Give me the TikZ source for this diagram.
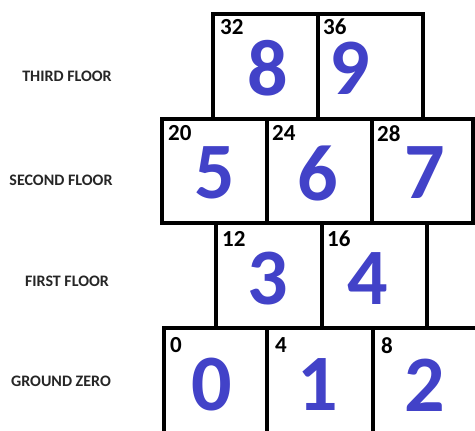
\documentclass[tikz,border=0pt]{standalone}
\usepackage{fontspec}
\setmainfont{Carlito}
\definecolor{digitblue}{RGB}{66,66,200}
\begin{document}
\begin{tikzpicture}[x=1pt,y=-1pt,
  cell/.style={draw=black,line width=3.2pt,anchor=north west,inner sep=0pt,outer sep=0pt,minimum height=#1},
  cell/.default=105,
  big/.style={font=\fontsize{80}{80}\selectfont\bfseries,text=digitblue,inner sep=0pt},
  small/.style={font=\fontsize{23}{23}\selectfont\bfseries,text=black,inner sep=0pt,anchor=north west},
  floorlabel/.style={font=\fontsize{16}{16}\selectfont\bfseries,text=black!85,inner sep=0pt}]
\useasboundingbox (0,0) rectangle (475,431);
\begin{scope}
\clip (0,0) rectangle (475,431);
% third floor
\node[cell=105,minimum width=105] (c8) at (213,14) {};
\node[cell=105,minimum width=105] (c9) at (318,14) {};
% second floor
\node[cell=104,minimum width=105] (c5) at (162,119) {};
\node[cell=104,minimum width=105] (c6) at (267,119) {};
\node[cell=104,minimum width=101] (c7) at (372,119) {};
% first floor
\node[cell=105,minimum width=106] (c3) at (216,223) {};
\node[cell=105,minimum width=105] (c4) at (322,223) {};
\node[cell=105,minimum width=105] (cx) at (427,223) {};
% ground
\node[cell=110,minimum width=103] (c0) at (164,328) {};
\node[cell=110,minimum width=106] (c1) at (267,328) {};
\node[cell=110,minimum width=106] (c2) at (373,328) {};
\end{scope}
% big digits
\node[big] (d8) at (268,68) {8};
\node[big] (d9) at (350,68) {9};
\node[big] (d5) at (215,173) {5};
\node[big] (d6) at (318,173) {6};
\node[big] (d7) at (425,173) {7};
\node[big] (d3) at (268,279) {3};
\node[big] (d4) at (368,279) {4};
\node[big] (d0) at (212,385) {0};
\node[big] (d1) at (318,385) {1};
\node[big] (d2) at (425,385) {2};
% small numbers
\node[small] (n32) at (220,19) {32};
\node[small] (n36) at (323,19) {36};
\node[small] (n20) at (168,125) {20};
\node[small] (n24) at (272,125) {24};
\node[small] (n28) at (377,125) {28};
\node[small] (n12) at (222,231) {12};
\node[small] (n16) at (327,231) {16};
\node[small] (n0) at (170,337) {0};
\node[small] (n4) at (275,337) {4};
\node[small] (n8) at (381,337) {8};
% floor labels
\node[floorlabel] (l3) at (67,76) {THIRD FLOOR};
\node[floorlabel] (l2) at (61,180) {SECOND FLOOR};
\node[floorlabel] (l1) at (67,281) {FIRST FLOOR};
\node[floorlabel] (l0) at (61,381) {GROUND ZERO};
\end{tikzpicture}
\end{document}
